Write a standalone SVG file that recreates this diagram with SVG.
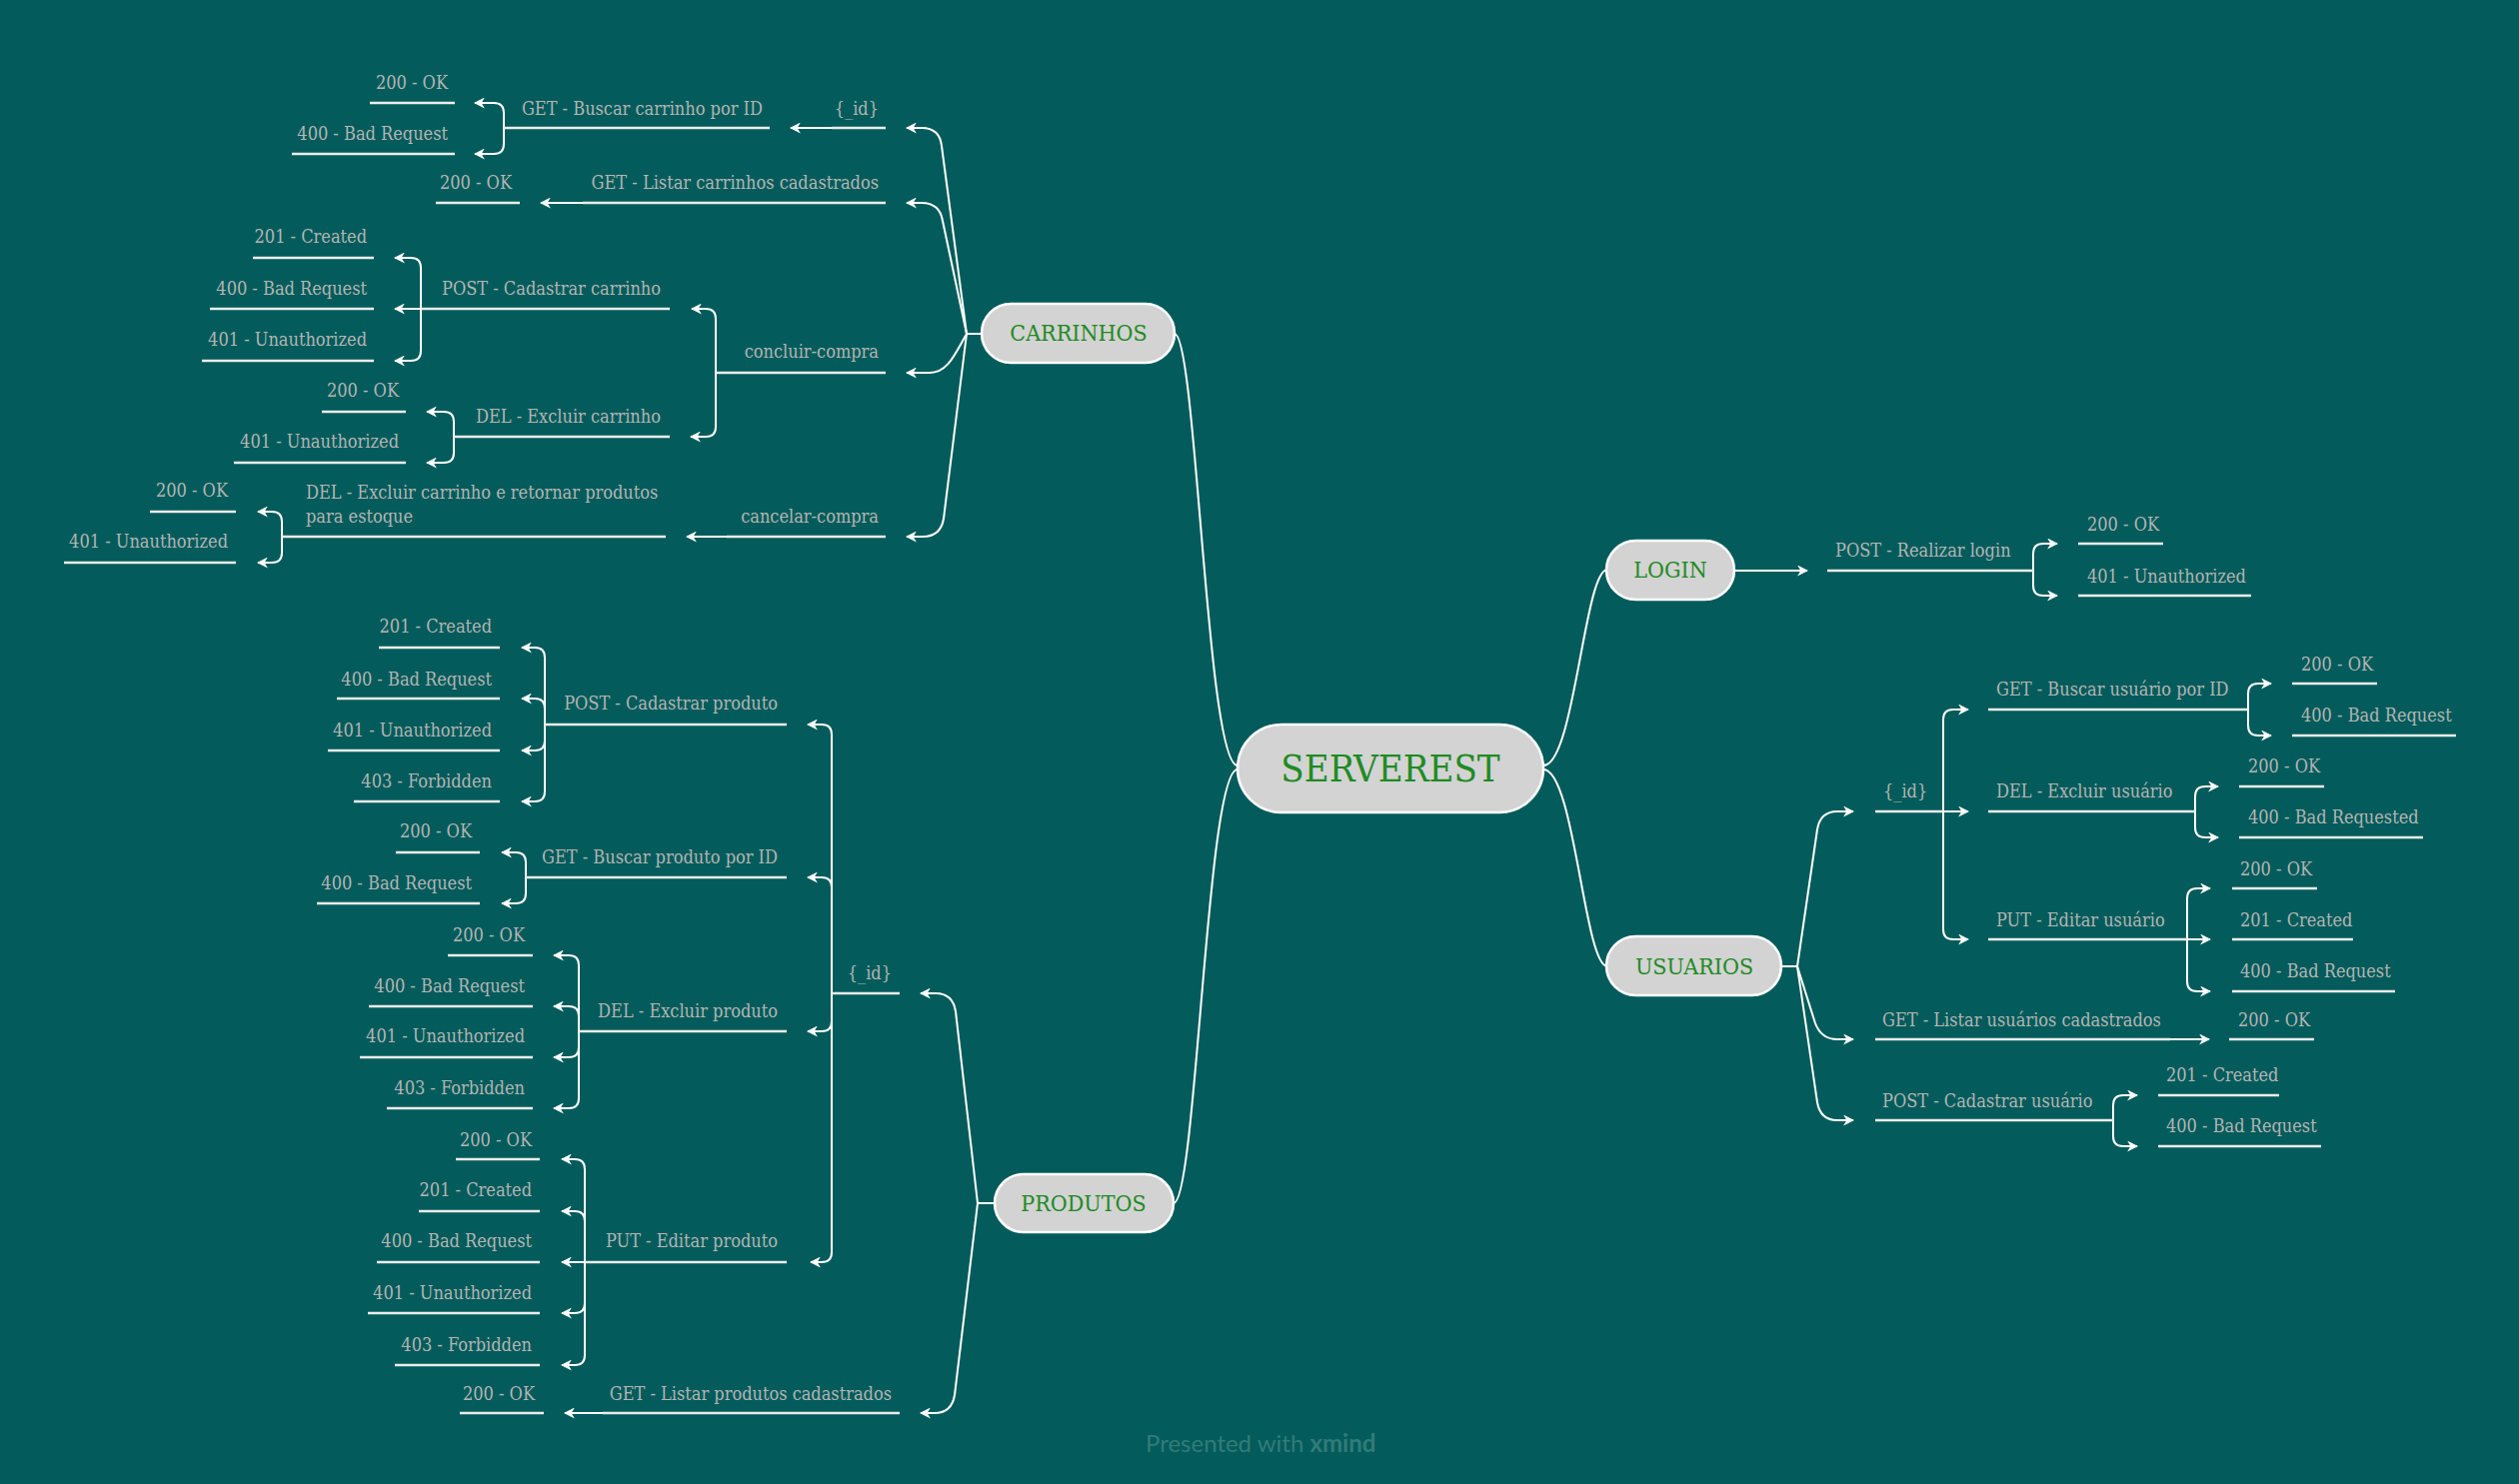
<svg xmlns="http://www.w3.org/2000/svg" width="2520" height="1485" viewBox="0 0 2520 1485">
<style>
.t{font-family:"DejaVu Serif Condensed","DejaVu Serif",serif;font-stretch:condensed;font-size:18px;fill:#b4b4b4}
.e{text-anchor:end}
.u{stroke:#ececec;stroke-width:2.5;fill:none}
.c{stroke:#ffffff;stroke-width:2;fill:none}
.a{stroke:#ffffff;stroke-width:2;fill:none;marker-end:url(#ar)}
.n{fill:#d3d3d3;stroke:#ffffff;stroke-width:2.5}
.nt{font-family:"DejaVu Serif Condensed","DejaVu Serif",serif;font-stretch:condensed;fill:#1f8b24;text-anchor:middle}
</style>
<defs>
<marker id="ar" viewBox="0 0 10 10" refX="9" refY="5" markerWidth="11" markerHeight="11" markerUnits="userSpaceOnUse" orient="auto">
<path d="M0,0 L10,5 L0,10 L3,5 Z" fill="#ffffff"/>
</marker>
</defs>
<rect width="2520" height="1485" fill="#035c5b"/>

<g id="connectors">
<!-- main -->
<path class="c" d="M1238,766 C1207,766 1197,334 1175,334"/>
<path class="c" d="M1238,770 C1207,770 1197,1204 1174,1204"/>
<path class="c" d="M1544,766 C1575,766 1585,570 1608,570"/>
<path class="c" d="M1544,770 C1575,770 1585,967 1608,967"/>
<!-- carrinhos branch -->
<path class="c" d="M982,334 H967"/>
<path class="a" d="M967,334 L942,146 Q940,128 922,128 H907"/>
<path class="a" d="M967,334 L943,221 Q940,203 922,203 H907"/>
<path class="a" d="M967,334 C955,355 948,373 930,373 H907"/>
<path class="a" d="M967,334 L944,519 Q941,537 923,537 H907"/>
<path class="a" d="M832,128 H791"/>
<path class="a" d="M504,128 V113 Q504,103 494,103 H475"/>
<path class="a" d="M504,128 V144 Q504,154 494,154 H475"/>
<path class="a" d="M583,203 H541"/>
<path class="a" d="M716,373 V319 Q716,309 706,309 H692"/>
<path class="a" d="M716,373 V427 Q716,437 706,437 H691"/>
<path class="a" d="M421,309 V268 Q421,258 411,258 H395"/>
<path class="a" d="M421,309 H395"/>
<path class="a" d="M421,309 V351 Q421,361 411,361 H395"/>
<path class="a" d="M454,437 V422 Q454,412 444,412 H427"/>
<path class="a" d="M454,437 V453 Q454,463 444,463 H427"/>
<path class="a" d="M727,537 H687"/>
<path class="a" d="M282,537 V522 Q282,512 272,512 H258"/>
<path class="a" d="M282,537 V553 Q282,563 272,563 H258"/>
<!-- produtos branch -->
<path class="c" d="M995,1204 H978"/>
<path class="a" d="M978,1204 L956,1012 Q953,994 936,994 H921"/>
<path class="a" d="M978,1204 L955,1396 Q952,1414 935,1414 H921"/>
<path class="a" d="M832,994 V735 Q832,725 822,725 H808"/>
<path class="a" d="M832,994 V888 Q832,878 822,878 H808"/>
<path class="a" d="M832,994 V1022 Q832,1032 822,1032 H808"/>
<path class="a" d="M832,994 V1253 Q832,1263 822,1263 H811"/>
<path class="a" d="M545,725 V658 Q545,648 535,648 H522"/>
<path class="a" d="M545,725 V709 Q545,699 535,699 H522"/>
<path class="a" d="M545,725 V741 Q545,751 535,751 H522"/>
<path class="a" d="M545,725 V792 Q545,802 535,802 H522"/>
<path class="a" d="M526,878 V863 Q526,853 516,853 H502"/>
<path class="a" d="M526,878 V894 Q526,904 516,904 H502"/>
<path class="a" d="M579,1032 V966 Q579,956 569,956 H554"/>
<path class="a" d="M579,1032 V1017 Q579,1007 569,1007 H554"/>
<path class="a" d="M579,1032 V1048 Q579,1058 569,1058 H554"/>
<path class="a" d="M579,1032 V1099 Q579,1109 569,1109 H554"/>
<path class="a" d="M585,1263 V1170 Q585,1160 575,1160 H562"/>
<path class="a" d="M585,1263 V1222 Q585,1212 575,1212 H562"/>
<path class="a" d="M585,1263 H562"/>
<path class="a" d="M585,1263 V1304 Q585,1314 575,1314 H562"/>
<path class="a" d="M585,1263 V1356 Q585,1366 575,1366 H562"/>
<path class="a" d="M603,1414 H565"/>
<!-- login -->
<path class="a" d="M1735,571 H1808"/>
<path class="a" d="M2034,571 V554 Q2034,544 2044,544 H2058"/>
<path class="a" d="M2034,571 V586 Q2034,596 2044,596 H2058"/>
<!-- usuarios branch -->
<path class="c" d="M1782,967 H1798"/>
<path class="a" d="M1798,967 L1818,830 Q1821,812 1838,812 H1854"/>
<path class="a" d="M1798,967 L1816,1024 Q1822,1040 1838,1040 H1854"/>
<path class="a" d="M1798,967 L1818,1103 Q1821,1121 1838,1121 H1854"/>
<path class="a" d="M1944,812 V720 Q1944,710 1954,710 H1969"/>
<path class="a" d="M1944,812 H1969"/>
<path class="a" d="M1944,812 V930 Q1944,940 1954,940 H1969"/>
<path class="a" d="M2249,710 V694 Q2249,684 2259,684 H2272"/>
<path class="a" d="M2249,710 V726 Q2249,736 2259,736 H2272"/>
<path class="a" d="M2196,812 V797 Q2196,787 2206,787 H2219"/>
<path class="a" d="M2196,812 V828 Q2196,838 2206,838 H2219"/>
<path class="a" d="M2188,940 V899 Q2188,889 2198,889 H2211"/>
<path class="a" d="M2188,940 H2211"/>
<path class="a" d="M2188,940 V982 Q2188,992 2198,992 H2211"/>
<path class="a" d="M2171,1040 H2210"/>
<path class="a" d="M2114,1121 V1106 Q2114,1096 2124,1096 H2138"/>
<path class="a" d="M2114,1121 V1137 Q2114,1147 2124,1147 H2138"/>
</g>

<!-- main nodes -->
<g id="serverest"><rect class="n" x="1238" y="725" width="306" height="88" rx="44"/><text class="nt" x="1391" y="782" font-size="38">SERVEREST</text></g>
<g id="carrinhos"><rect class="n" x="982" y="304" width="193" height="59" rx="29.5"/><text class="nt" x="1079" y="341" font-size="23">CARRINHOS</text></g>
<g id="produtos"><rect class="n" x="995" y="1175" width="179" height="58" rx="29"/><text class="nt" x="1084" y="1212" font-size="23">PRODUTOS</text></g>
<g id="login"><rect class="n" x="1607" y="541" width="128" height="59" rx="29.5"/><text class="nt" x="1671" y="578" font-size="23">LOGIN</text></g>
<g id="usuarios"><rect class="n" x="1607" y="937" width="175" height="59" rx="29.5"/><text class="nt" x="1695" y="975" font-size="23">USUARIOS</text></g>

<!-- carrinhos subtree -->
<g id="c-id"><path class="u" d="M832,128 H886"/><text class="t e" x="879" y="115">{_id}</text></g>
<g id="c-get-id"><path class="u" d="M504,128 H770"/><text class="t e" x="763" y="115">GET - Buscar carrinho por ID</text></g>
<g id="c-get-id-200"><path class="u" d="M370,103 H455"/><text class="t e" x="448" y="89">200 - OK</text></g>
<g id="c-get-id-400"><path class="u" d="M292,154 H455"/><text class="t e" x="448" y="140">400 - Bad Request</text></g>
<g id="c-list"><path class="u" d="M583,203 H886"/><text class="t e" x="879" y="189">GET - Listar carrinhos cadastrados</text></g>
<g id="c-list-200"><path class="u" d="M436,203 H520"/><text class="t e" x="512" y="189">200 - OK</text></g>
<g id="c-concluir"><path class="u" d="M716,373 H886"/><text class="t e" x="879" y="358">concluir-compra</text></g>
<g id="c-post"><path class="u" d="M421,309 H670"/><text class="t e" x="661" y="295">POST - Cadastrar carrinho</text></g>
<g id="c-post-201"><path class="u" d="M253,258 H374"/><text class="t e" x="367" y="243">201 - Created</text></g>
<g id="c-post-400"><path class="u" d="M210,309 H374"/><text class="t e" x="367" y="295">400 - Bad Request</text></g>
<g id="c-post-401"><path class="u" d="M202,361 H374"/><text class="t e" x="367" y="346">401 - Unauthorized</text></g>
<g id="c-del"><path class="u" d="M454,437 H670"/><text class="t e" x="661" y="423">DEL - Excluir carrinho</text></g>
<g id="c-del-200"><path class="u" d="M322,412 H406"/><text class="t e" x="399" y="397">200 - OK</text></g>
<g id="c-del-401"><path class="u" d="M234,463 H406"/><text class="t e" x="399" y="448">401 - Unauthorized</text></g>
<g id="c-cancelar"><path class="u" d="M727,537 H886"/><text class="t e" x="879" y="523">cancelar-compra</text></g>
<g id="c-cancel-del"><path class="u" d="M282,537 H666"/><text class="t" x="306" y="499">DEL - Excluir carrinho e retornar produtos</text><text class="t" x="306" y="523">para estoque</text></g>
<g id="c-cancel-200"><path class="u" d="M150,512 H236"/><text class="t e" x="228" y="497">200 - OK</text></g>
<g id="c-cancel-401"><path class="u" d="M64,563 H236"/><text class="t e" x="228" y="548">401 - Unauthorized</text></g>

<!-- produtos subtree -->
<g id="p-id"><path class="u" d="M832,994 H900"/><text class="t e" x="892" y="980">{_id}</text></g>
<g id="p-post"><path class="u" d="M545,725 H787"/><text class="t e" x="778" y="710">POST - Cadastrar produto</text></g>
<g id="p-post-201"><path class="u" d="M379,648 H500"/><text class="t e" x="492" y="633">201 - Created</text></g>
<g id="p-post-400"><path class="u" d="M337,699 H500"/><text class="t e" x="492" y="686">400 - Bad Request</text></g>
<g id="p-post-401"><path class="u" d="M328,751 H500"/><text class="t e" x="492" y="737">401 - Unauthorized</text></g>
<g id="p-post-403"><path class="u" d="M354,802 H500"/><text class="t e" x="492" y="788">403 - Forbidden</text></g>
<g id="p-get"><path class="u" d="M526,878 H787"/><text class="t e" x="778" y="864">GET - Buscar produto por ID</text></g>
<g id="p-get-200"><path class="u" d="M396,853 H480"/><text class="t e" x="472" y="838">200 - OK</text></g>
<g id="p-get-400"><path class="u" d="M317,904 H480"/><text class="t e" x="472" y="890">400 - Bad Request</text></g>
<g id="p-del"><path class="u" d="M579,1032 H787"/><text class="t e" x="778" y="1018">DEL - Excluir produto</text></g>
<g id="p-del-200"><path class="u" d="M448,956 H533"/><text class="t e" x="525" y="942">200 - OK</text></g>
<g id="p-del-400"><path class="u" d="M369,1007 H533"/><text class="t e" x="525" y="993">400 - Bad Request</text></g>
<g id="p-del-401"><path class="u" d="M360,1058 H533"/><text class="t e" x="525" y="1043">401 - Unauthorized</text></g>
<g id="p-del-403"><path class="u" d="M387,1109 H533"/><text class="t e" x="525" y="1095">403 - Forbidden</text></g>
<g id="p-put"><path class="u" d="M585,1263 H787"/><text class="t e" x="778" y="1248">PUT - Editar produto</text></g>
<g id="p-put-200"><path class="u" d="M456,1160 H540"/><text class="t e" x="532" y="1147">200 - OK</text></g>
<g id="p-put-201"><path class="u" d="M419,1212 H540"/><text class="t e" x="532" y="1197">201 - Created</text></g>
<g id="p-put-400"><path class="u" d="M377,1263 H540"/><text class="t e" x="532" y="1248">400 - Bad Request</text></g>
<g id="p-put-401"><path class="u" d="M368,1314 H540"/><text class="t e" x="532" y="1300">401 - Unauthorized</text></g>
<g id="p-put-403"><path class="u" d="M395,1366 H540"/><text class="t e" x="532" y="1352">403 - Forbidden</text></g>
<g id="p-list"><path class="u" d="M603,1414 H900"/><text class="t e" x="892" y="1401">GET - Listar produtos cadastrados</text></g>
<g id="p-list-200"><path class="u" d="M460,1414 H544"/><text class="t e" x="535" y="1401">200 - OK</text></g>

<!-- login subtree -->
<g id="l-post"><path class="u" d="M1828,571 H2034"/><text class="t" x="1836" y="557">POST - Realizar login</text></g>
<g id="l-post-200"><path class="u" d="M2079,544 H2164"/><text class="t" x="2088" y="531">200 - OK</text></g>
<g id="l-post-401"><path class="u" d="M2079,596 H2252"/><text class="t" x="2088" y="583">401 - Unauthorized</text></g>

<!-- usuarios subtree -->
<g id="u-id"><path class="u" d="M1876,812 H1944"/><text class="t" x="1884" y="798">{_id}</text></g>
<g id="u-get"><path class="u" d="M1989,710 H2249"/><text class="t" x="1997" y="696">GET - Buscar usuário por ID</text></g>
<g id="u-get-200"><path class="u" d="M2293,684 H2378"/><text class="t" x="2302" y="671">200 - OK</text></g>
<g id="u-get-400"><path class="u" d="M2293,736 H2457"/><text class="t" x="2302" y="722">400 - Bad Request</text></g>
<g id="u-del"><path class="u" d="M1989,812 H2196"/><text class="t" x="1997" y="798">DEL - Excluir usuário</text></g>
<g id="u-del-200"><path class="u" d="M2240,787 H2325"/><text class="t" x="2249" y="773">200 - OK</text></g>
<g id="u-del-400"><path class="u" d="M2240,838 H2424"/><text class="t" x="2249" y="824">400 - Bad Requested</text></g>
<g id="u-put"><path class="u" d="M1989,940 H2188"/><text class="t" x="1997" y="927">PUT - Editar usuário</text></g>
<g id="u-put-200"><path class="u" d="M2233,889 H2318"/><text class="t" x="2241" y="876">200 - OK</text></g>
<g id="u-put-201"><path class="u" d="M2233,940 H2354"/><text class="t" x="2241" y="927">201 - Created</text></g>
<g id="u-put-400"><path class="u" d="M2233,992 H2396"/><text class="t" x="2241" y="978">400 - Bad Request</text></g>
<g id="u-list"><path class="u" d="M1876,1040 H2171"/><text class="t" x="1883" y="1027">GET - Listar usuários cadastrados</text></g>
<g id="u-list-200"><path class="u" d="M2230,1040 H2315"/><text class="t" x="2239" y="1027">200 - OK</text></g>
<g id="u-post"><path class="u" d="M1876,1121 H2114"/><text class="t" x="1883" y="1108">POST - Cadastrar usuário</text></g>
<g id="u-post-201"><path class="u" d="M2159,1096 H2280"/><text class="t" x="2167" y="1082">201 - Created</text></g>
<g id="u-post-400"><path class="u" d="M2159,1147 H2322"/><text class="t" x="2167" y="1133">400 - Bad Request</text></g>

<text x="1146" y="1453" font-family="Lato,'Noto Sans',sans-serif" font-size="24" fill="#327b79">Presented with <tspan font-weight="bold">xmind</tspan></text>
</svg>
